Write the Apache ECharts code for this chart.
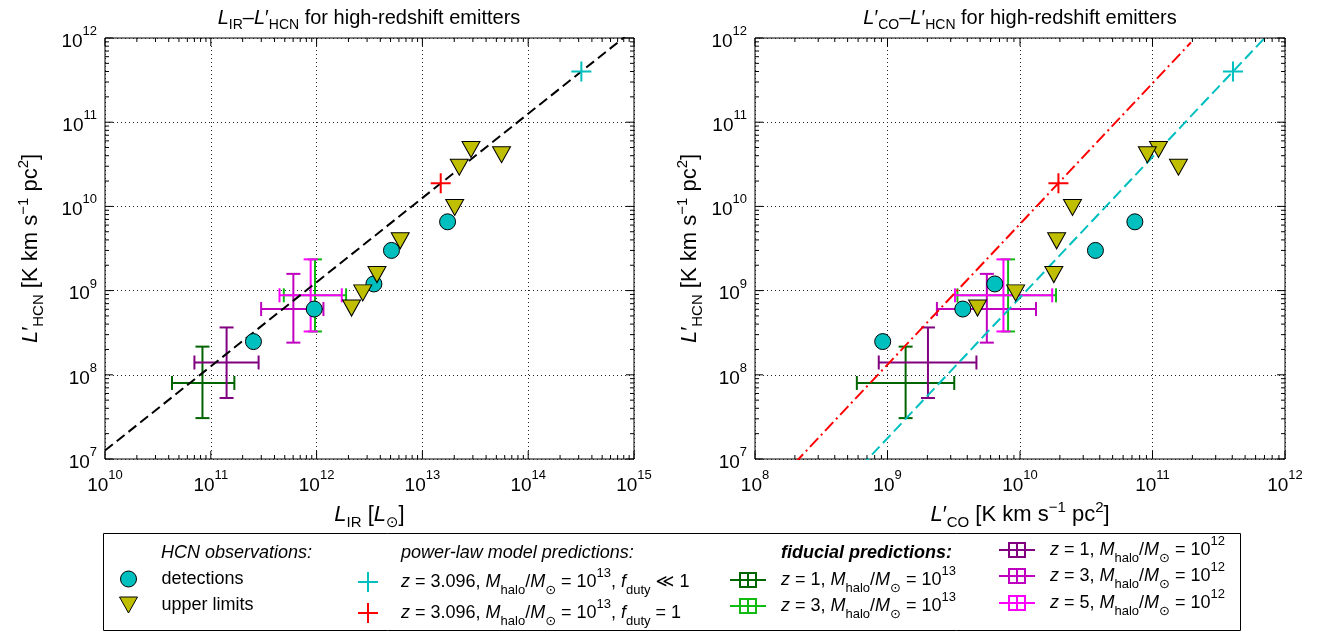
<!DOCTYPE html>
<html><head><meta charset="utf-8">
<script src="https://cdn.jsdelivr.net/npm/echarts@6/dist/echarts.min.js"></script>
<style>html,body{margin:0;padding:0;background:#fff}#c{width:1330px;height:634px}</style>
</head><body><div id="c"></div>
<script>
const FONT = '"Liberation Sans", Arial, Helvetica, "DejaVu Sans", sans-serif';

// ---- axis ticks (decades) ----
const irTicks = [1e10, 1e11, 1e12, 1e13, 1e14, 1e15];
const coTicks = [1e8, 1e9, 1e10, 1e11, 1e12];
const hcnTicks = [1e7, 1e8, 1e9, 1e10, 1e11, 1e12];

// ---- HCN observations: detections ----
const detLhcn = [2.48e8, 6.04e8, 1.20e9, 3.0e9, 6.56e9];
const detLir  = [2.53e11, 9.5e11, 3.48e12, 5.1e12, 1.73e13];
const detLco  = [9.2e8, 3.7e9, 6.45e9, 3.71e10, 7.36e10];

// ---- HCN observations: upper limits ----
const ulLhcn = [6.2e8, 9.4e8, 1.55e9, 3.9e9, 9.7e9, 2.92e10, 4.75e10, 4.1e10];
const ulLir  = [2.14e12, 2.73e12, 3.72e12, 6.17e12, 2.02e13, 2.23e13, 2.88e13, 5.6e13];
const ulLco  = [4.78e9, 9.27e9, 1.8e10, 1.89e10, 2.49e10, 1.57e11, 1.11e11, 9.14e10];

// ---- power-law model predictions [L_IR, L'_CO, L'_HCN] ----
const predLowDuty  = [3.18e14, 4.05e11, 4.0e11];
const predFullDuty = [1.49e13, 1.95e10, 1.88e10];

// ---- power-law relations (line end points) ----
const irFitX = [1e10, 1e15];
const irFitY = [1.26e7, 1.26e12];
const coFullX = [2.0e8, 1.95e11];
const coFullY = [8.98e6, 8.85e11];
const coLowX = [6.31e8, 7.94e11];
const coLowY = [8.2e6, 1.23e12];

// ---- fiducial predictions [x, y, xlo, xhi, ylo, yhi] ----
const fidZ1M13Ir = [8.34e10, 8.0e7, 4.3e10, 1.67e11, 3.06e7, 2.16e8];
const fidZ3M13Ir = [9.66e11, 8.79e8, 4.9e11, 1.9e12, 3.27e8, 2.35e9];
const fidZ1M12Ir = [1.41e11, 1.40e8, 7.0e10, 2.83e11, 5.3e7, 3.65e8];
const fidZ3M12Ir = [6.03e11, 6.04e8, 2.99e11, 1.16e12, 2.41e8, 1.58e9];
const fidZ5M12Ir = [8.79e11, 8.79e8, 4.46e11, 1.73e12, 3.27e8, 2.35e9];
const fidZ1M13Co = [1.37e9, 8.0e7, 5.87e8, 3.19e9, 3.06e7, 2.16e8];
const fidZ3M13Co = [8.13e9, 8.79e8, 3.37e9, 1.87e10, 3.27e8, 2.35e9];
const fidZ1M12Co = [2.02e9, 1.40e8, 8.59e8, 4.69e9, 5.3e7, 3.65e8];
const fidZ3M12Co = [5.62e9, 6.04e8, 2.36e9, 1.32e10, 2.41e8, 1.58e9];
const fidZ5M12Co = [7.50e9, 8.79e8, 3.23e9, 1.75e10, 3.27e8, 2.35e9];

// ---- styles ----
const C_DET = '#00bfbf', C_UL = '#bfbf00';
const C_Z1M13 = '#006400', C_Z3M13 = '#11bb11', C_Z1M12 = '#800080', C_Z3M12 = '#bf00bf', C_Z5M12 = '#ff00ff';
const TRI = 'path://M0 0H18L9 16Z';
const PLUS = 'path://M0 9H20V11H0Z M9 0H11V20H9Z';
const ERRICON = 'path://M0 7H36V9H0Z M17 0H19V16H17Z M9 0H27V2H9Z M9 14H27V16H9Z M9 0H11V16H9Z M25 0H27V16H25Z';

function R(base, lh) {
  return {
    i: {fontFamily: FONT, fontStyle: 'italic', fontSize: base, lineHeight: lh, color: '#000'},
    sub: {fontFamily: FONT, fontSize: Math.round(base * 0.7), lineHeight: Math.round(lh * 0.63), verticalAlign: 'bottom', color: '#000'},
    sup: {fontFamily: FONT, fontSize: Math.round(base * 0.7), lineHeight: Math.round(base * 0.85), verticalAlign: 'top', color: '#000'}
  };
}
const tickRich = {
  b: {fontFamily: FONT, fontSize: 19, lineHeight: 26, verticalAlign: 'bottom', color: '#000'},
  s: {fontFamily: FONT, fontSize: 13, lineHeight: 14, verticalAlign: 'top', color: '#000'}
};
function supLabel(v) { return '{b|10}{s|' + Math.round(Math.log10(v)) + '}'; }

const GRIDS = [
  {left: 105, top: 38, width: 529, height: 421, show: true, borderColor: '#000', borderWidth: 1},
  {left: 755, top: 38, width: 530, height: 421, show: true, borderColor: '#000', borderWidth: 1}
];
const splitLine = {show: true, lineStyle: {color: '#222', width: 1, type: [1, 3]}};
const NAME_STYLE = {fontFamily: FONT, fontSize: 22, lineHeight: 30, color: '#000', rich: R(22, 30)};

function xAxis(gi, ticks, name) {
  return {gridIndex: gi, type: 'log', logBase: 10, min: ticks[0], max: ticks[ticks.length - 1], splitNumber: ticks.length - 1,
    axisLine: {show: false}, axisTick: {show: false}, splitLine,
    axisLabel: {formatter: supLabel, rich: tickRich, margin: 10},
    name, nameLocation: 'middle', nameGap: 36, nameTextStyle: NAME_STYLE};
}
function yAxis(gi, ticks, name, gap) {
  return {gridIndex: gi, type: 'log', logBase: 10, min: ticks[0], max: ticks[ticks.length - 1], splitNumber: ticks.length - 1,
    axisLine: {show: false}, axisTick: {show: false}, splitLine,
    axisLabel: {formatter: supLabel, rich: tickRich, margin: 8},
    name, nameLocation: 'middle', nameGap: gap, nameRotate: 90, nameTextStyle: NAME_STYLE};
}
const yName = '{i|L}′{sub|HCN} [K km s{sup|−1} pc{sup|2}]';

function errSeries(name, color, gi, arr) {
  return {type: 'custom', name, xAxisIndex: gi, yAxisIndex: gi, z: 2, silent: true,
    itemStyle: {color}, encode: {x: [0, 2, 3], y: [1, 4, 5]}, data: [arr],
    renderItem: function (params, api) {
      const x = api.value(0), y = api.value(1);
      const l = api.coord([api.value(2), y]), r = api.coord([api.value(3), y]);
      const b = api.coord([x, api.value(4)]), t = api.coord([x, api.value(5)]);
      const cap = 7, st = {stroke: color, lineWidth: 2};
      const ln = (x1, y1, x2, y2) => ({type: 'line', shape: {x1, y1, x2, y2}, style: st});
      return {type: 'group', children: [
        ln(l[0], l[1], r[0], r[1]), ln(b[0], b[1], t[0], t[1]),
        ln(l[0], l[1] - cap, l[0], l[1] + cap), ln(r[0], r[1] - cap, r[0], r[1] + cap),
        ln(b[0] - cap, b[1], b[0] + cap, b[1]), ln(t[0] - cap, t[1], t[0] + cap, t[1])
      ]};
    }};
}
function lineSeries(gi, xs, ys, color, dash) {
  return {type: 'line', xAxisIndex: gi, yAxisIndex: gi, data: xs.map((x, i) => [x, ys[i]]),
    symbol: 'none', showSymbol: false, lineStyle: {color, width: 2, type: dash}, silent: true, z: 3, clip: true};
}
function detSeries(gi, xs) {
  return {type: 'scatter', name: 'det', xAxisIndex: gi, yAxisIndex: gi, data: xs.map((x, i) => [x, detLhcn[i]]),
    symbol: 'circle', symbolSize: 16, itemStyle: {color: C_DET, borderColor: '#000', borderWidth: 1, opacity: 1}, z: 4};
}
function ulSeries(gi, xs) {
  return {type: 'scatter', name: 'upl', xAxisIndex: gi, yAxisIndex: gi, data: xs.map((x, i) => [x, ulLhcn[i]]),
    symbol: TRI, symbolSize: [18, 16], itemStyle: {color: C_UL, borderColor: '#000', borderWidth: 1, opacity: 1}, z: 4};
}
function plusSeries(name, gi, pt, xi, color) {
  return {type: 'scatter', name, xAxisIndex: gi, yAxisIndex: gi, data: [[pt[xi], pt[2]]],
    symbol: PLUS, symbolSize: 20, itemStyle: {color, opacity: 1}, z: 5};
}
function tickSeries(gi, xt, yt) {
  const xmin = xt[0], xmax = xt[xt.length - 1], ymin = yt[0], ymax = yt[yt.length - 1];
  const data = [];
  const add = (arr, kind) => {
    for (let d = 0; d < arr.length; d++) {
      const dec = arr[d];
      const kmax = d === arr.length - 1 ? 1 : 9;
      for (let k = 1; k <= kmax; k++) {
        const v = k * dec;
        data.push(kind === 0 ? [v, ymin, 0, k === 1 ? 1 : 0] : [xmin, v, 1, k === 1 ? 1 : 0]);
      }
    }
  };
  add(xt, 0); add(yt, 1);
  return {type: 'custom', xAxisIndex: gi, yAxisIndex: gi, z: 6, silent: true, data,
    renderItem: function (params, api) {
      const kind = api.value(2), len = api.value(3) ? 8 : 4;
      const st = {stroke: '#000', lineWidth: 1};
      if (kind === 0) {
        const v = api.value(0), p1 = api.coord([v, ymin]), p2 = api.coord([v, ymax]);
        return {type: 'group', children: [
          {type: 'line', shape: {x1: p1[0], y1: p1[1], x2: p1[0], y2: p1[1] - len}, style: st},
          {type: 'line', shape: {x1: p2[0], y1: p2[1], x2: p2[0], y2: p2[1] + len}, style: st}]};
      }
      const v = api.value(1), p1 = api.coord([xmin, v]), p2 = api.coord([xmax, v]);
      return {type: 'group', children: [
        {type: 'line', shape: {x1: p1[0], y1: p1[1], x2: p1[0] + len, y2: p1[1]}, style: st},
        {type: 'line', shape: {x1: p2[0], y1: p2[1], x2: p2[0] - len, y2: p2[1]}, style: st}]};
    }};
}

// ---- legend ----
const MH = '{i|M}{sub|halo}/{i|M}{sub|⊙}';
const legendText = {
  det: 'detections', upl: 'upper limits',
  pl_low: '{i|z} = 3.096, ' + MH + ' = 10{sup|13}, {i|f}{sub|duty} ≪ 1',
  pl_full: '{i|z} = 3.096, ' + MH + ' = 10{sup|13}, {i|f}{sub|duty} = 1',
  fid_z1_m13: '{i|z} = 1, ' + MH + ' = 10{sup|13}',
  fid_z3_m13: '{i|z} = 3, ' + MH + ' = 10{sup|13}',
  fid_z1_m12: '{i|z} = 1, ' + MH + ' = 10{sup|12}',
  fid_z3_m12: '{i|z} = 3, ' + MH + ' = 10{sup|12}',
  fid_z5_m12: '{i|z} = 5, ' + MH + ' = 10{sup|12}'
};
const LR = R(18, 30);
// cx: icon centre, iw: visible icon width (legend box is aligned on the visible icon)
function leg(name, icon, cx, cy, iw, ih, border) {
  return {data: [{name, icon}], left: cx - iw / 2, top: cy - 15, itemWidth: 56, itemHeight: ih, padding: 0, itemGap: 0,
    selectedMode: false, symbolKeepAspect: true,
    itemStyle: border ? {borderColor: '#000', borderWidth: 1} : {borderWidth: 0},
    formatter: n => legendText[n],
    textStyle: {fontFamily: FONT, fontSize: 18, lineHeight: 30, color: '#000', rich: LR}};
}

function txt(text, x, y, size, extra, rich) {
  return Object.assign({type: 'text', x, y, z: 10, style: Object.assign({text, fontFamily: FONT, fontSize: size,
    fill: '#000', align: 'left', verticalAlign: 'middle', textAlign: 'left', textVerticalAlign: 'middle', rich: rich || {}}, extra || {})});
}
const TR = R(20, 28);

const option = {
  backgroundColor: '#fff',
  animation: false,
  grid: GRIDS,
  xAxis: [xAxis(0, irTicks, '{i|L}{sub|IR} [{i|L}{sub|⊙}]'), xAxis(1, coTicks, '{i|L}′{sub|CO} [K km s{sup|−1} pc{sup|2}]')],
  yAxis: [yAxis(0, hcnTicks, yName, 59), yAxis(1, hcnTicks, yName, 50)],
  legend: [
    leg('det', 'circle', 128, 579, 16, 16, true),
    leg('upl', TRI, 128, 605, 18, 16, true),
    leg('pl_low', PLUS, 368, 582, 20, 20, false),
    leg('pl_full', PLUS, 368, 613, 20, 20, false),
    leg('fid_z1_m13', ERRICON, 748, 580, 36, 16, false),
    leg('fid_z3_m13', ERRICON, 748, 606, 36, 16, false),
    leg('fid_z1_m12', ERRICON, 1017, 550, 36, 16, false),
    leg('fid_z3_m12', ERRICON, 1017, 576, 36, 16, false),
    leg('fid_z5_m12', ERRICON, 1017, 603, 36, 16, false)
  ],
  graphic: [
    txt('{i|L}{sub|IR}–{i|L}′{sub|HCN} for high-redshift emitters', 369, 18, 20, {align: 'center', textAlign: 'center', lineHeight: 28}, TR),
    txt('{i|L}′{sub|CO}–{i|L}′{sub|HCN} for high-redshift emitters', 1020, 18, 20, {align: 'center', textAlign: 'center', lineHeight: 28}, TR),
    {type: 'rect', z: 1, shape: {x: 103.5, y: 533.5, width: 1137, height: 97}, style: {fill: 'none', stroke: '#000', lineWidth: 1}},
    txt('HCN observations:', 161, 553, 18, {fontStyle: 'italic'}),
    txt('power-law model predictions:', 401, 553, 18, {fontStyle: 'italic'}),
    txt('fiducial predictions:', 781, 553, 18, {fontStyle: 'italic', fontWeight: 'bold'})
  ],
  series: [
    errSeries('fid_z1_m13', C_Z1M13, 0, fidZ1M13Ir),
    errSeries('fid_z3_m13', C_Z3M13, 0, fidZ3M13Ir),
    errSeries('fid_z1_m12', C_Z1M12, 0, fidZ1M12Ir),
    errSeries('fid_z3_m12', C_Z3M12, 0, fidZ3M12Ir),
    errSeries('fid_z5_m12', C_Z5M12, 0, fidZ5M12Ir),
    errSeries('fid_z1_m13', C_Z1M13, 1, fidZ1M13Co),
    errSeries('fid_z3_m13', C_Z3M13, 1, fidZ3M13Co),
    errSeries('fid_z1_m12', C_Z1M12, 1, fidZ1M12Co),
    errSeries('fid_z3_m12', C_Z3M12, 1, fidZ3M12Co),
    errSeries('fid_z5_m12', C_Z5M12, 1, fidZ5M12Co),
    lineSeries(0, irFitX, irFitY, '#000', [10, 5]),
    lineSeries(1, coFullX, coFullY, '#ff0000', [12, 4, 2, 4]),
    lineSeries(1, coLowX, coLowY, C_DET, [11, 5]),
    detSeries(0, detLir), detSeries(1, detLco),
    ulSeries(0, ulLir), ulSeries(1, ulLco),
    plusSeries('pl_low', 0, predLowDuty, 0, C_DET), plusSeries('pl_low', 1, predLowDuty, 1, C_DET),
    plusSeries('pl_full', 0, predFullDuty, 0, '#ff0000'), plusSeries('pl_full', 1, predFullDuty, 1, '#ff0000'),
    tickSeries(0, irTicks, hcnTicks), tickSeries(1, coTicks, hcnTicks)
  ]
};
const chart = echarts.init(document.getElementById('c'), null, {renderer: 'canvas'});
chart.setOption(option);
</script></body></html>
